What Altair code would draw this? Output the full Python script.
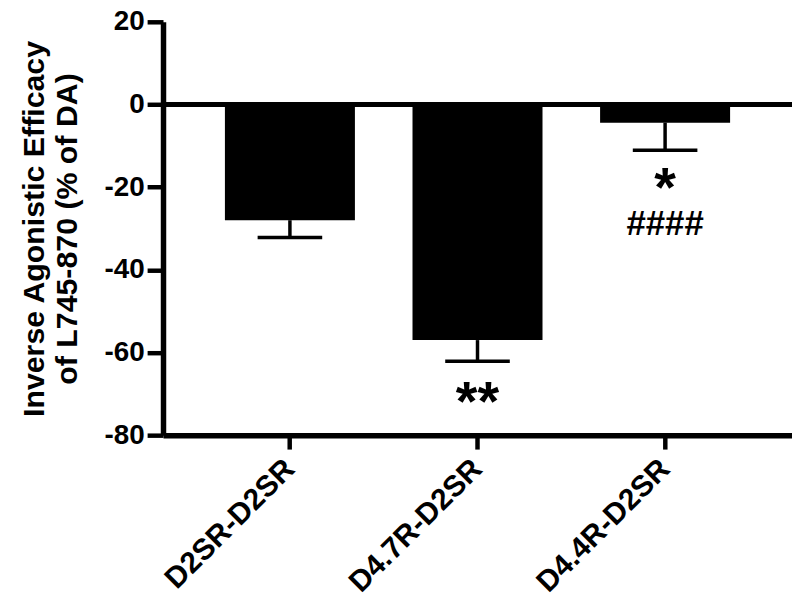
import altair as alt
import pandas as pd

categories = ["D2SR-D2SR", "D4.7R-D2SR", "D4.4R-D2SR"]
means = [-28.0, -57.0, -4.4]
sem = [4.2, 5.1, 6.7]

star_cats = ["D4.7R-D2SR", "D4.4R-D2SR"]
star_text = ["**", "*"]
star_y = [-76.3, -24.6]
hash_cats = ["D4.4R-D2SR"]
hash_text = ["####"]
hash_y = [-31.5]

FONT = "Liberation Sans"

df = pd.DataFrame({
    "cat": categories,
    "mean": means,
    "low": [m - s for m, s in zip(means, sem)],
    "z": [0.0] * len(categories),
})
stars = pd.DataFrame({"cat": star_cats, "txt": star_text, "y": star_y})
hashes = pd.DataFrame({"cat": hash_cats, "txt": hash_text, "y": hash_y})

xscale = alt.Scale(domain=categories, paddingInner=0.307, paddingOuter=0.33)
yscale = alt.Scale(domain=[-80, 20], nice=False, zero=False)

x_enc = alt.X("cat:N", scale=xscale, sort=categories, title=None,
              axis=alt.Axis(labelAngle=-45, labelFontSize=30, labelFont=FONT,
                            labelFontWeight="bold", labelColor="black",
                            labelAlign="right", labelBaseline="middle",
                            labelPadding=15, labelLimit=400,
                            domainWidth=5.5, domainColor="black",
                            tickWidth=4.5, tickSize=14, tickColor="black"))
y_enc = alt.Y("mean:Q", scale=yscale,
              title=["Inverse Agonistic Efficacy", "of L745-870 (% of DA)"],
              axis=alt.Axis(values=[-80, -60, -40, -20, 0, 20], grid=False,
                            labelExpr="datum.value < 0 ? '-' + abs(datum.value) : '' + datum.value",
                            labelFontSize=28, labelFont=FONT, labelFontWeight="bold",
                            labelColor="black", labelPadding=3,
                            domainWidth=5.5, domainColor="black",
                            tickWidth=4.5, tickSize=16, tickColor="black",
                            titleFontSize=30.5, titleFont=FONT, titleFontWeight="bold",
                            titleColor="black", titlePadding=22, titleLineHeight=33))

xs = alt.X("cat:N", scale=xscale, sort=categories)

bars = alt.Chart(df).mark_bar(color="black", opacity=1).encode(x=x_enc, y=y_enc, y2="z:Q")

err = alt.Chart(df).mark_rule(color="black", strokeWidth=3.5, opacity=1).encode(
    x=xs, y=alt.Y("mean:Q", scale=yscale), y2="low:Q")

caps = alt.Chart(df).mark_tick(color="black", size=65, thickness=3.5, opacity=1,
                               orient="horizontal").encode(
    x=xs, y=alt.Y("low:Q", scale=yscale))

zero = alt.Chart(df).mark_rule(color="black", strokeWidth=5, opacity=1).encode(
    y=alt.Y("z:Q", scale=yscale))

star_layer = alt.Chart(stars).mark_text(color="black", font=FONT, fontSize=56,
                                        fontWeight="bold", baseline="alphabetic",
                                        align="center").encode(
    x=xs, y=alt.Y("y:Q", scale=yscale), text="txt:N")

hash_layer = alt.Chart(hashes).mark_text(color="black", font=FONT, fontSize=35,
                                         fontWeight="bold", baseline="alphabetic",
                                         align="center").encode(
    x=xs, y=alt.Y("y:Q", scale=yscale), text="txt:N")

chart = alt.layer(bars, err, caps, zero, star_layer, hash_layer).properties(
    width=633, height=416,
    autosize=alt.AutoSizeParams(type="none"),
    padding={"left": 156, "top": 12, "right": 0, "bottom": 166},
    background="white",
).configure_view(stroke=None)

chart.save("out.html", embed_options={"renderer": "svg", "actions": False})
